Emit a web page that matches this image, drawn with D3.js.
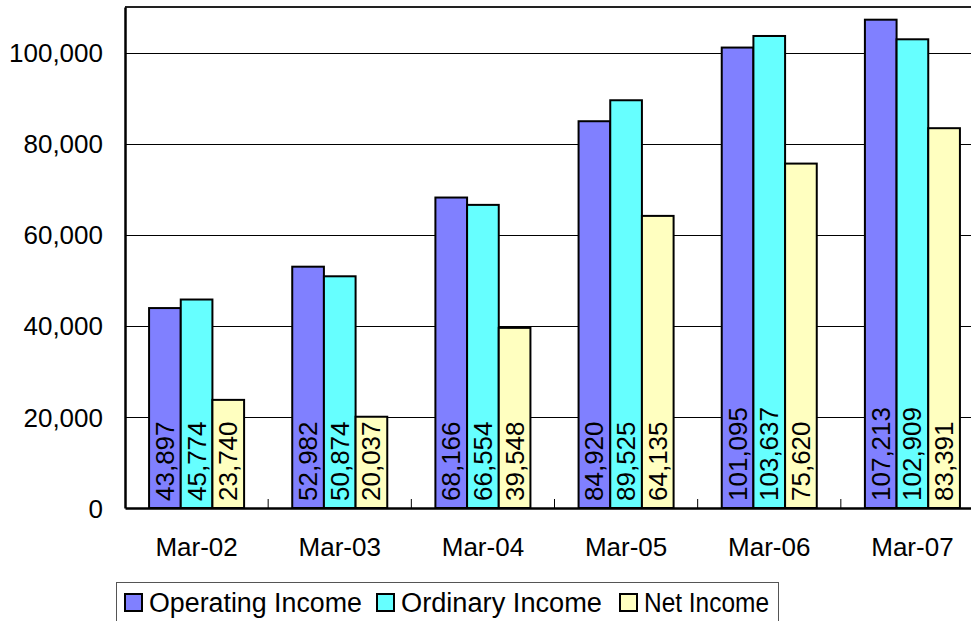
<!DOCTYPE html>
<html lang="en">
<head>
<meta charset="utf-8">
<script src="https://cdn.jsdelivr.net/npm/d3@7"></script>
<style>
  body { margin: 0; background: #fff; }
  text { font-family: "Liberation Sans", Arial, sans-serif; fill: #000; }
</style>
</head>
<body>
<script>
// chart data
var categories = ["Mar-02", "Mar-03", "Mar-04", "Mar-05", "Mar-06", "Mar-07"];
var seriesNames = ["Operating Income", "Ordinary Income", "Net Income"];
var operatingIncome = [43897, 52982, 68166, 84920, 101095, 107213];
var ordinaryIncome = [45774, 50874, 66554, 89525, 103637, 102909];
var netIncome = [23740, 20037, 39548, 64135, 75620, 83391];
var yTicks = [0, 20000, 40000, 60000, 80000, 100000];
var colors = ["#8080ff", "#66ffff", "#ffffc0"];

var w = 971, h = 621;
// plot area edges (right edge runs past the window)
var plotLeft = 125, plotRight = 984, plotTop = 7, plotBottom = 508;

var svg = d3.select("body").append("svg")
  .attr("width", w).attr("height", h);

var seriesValues = [operatingIncome, ordinaryIncome, netIncome];
var rows = [];
categories.forEach(function(c, i) {
  seriesNames.forEach(function(s, j) {
    rows.push({cat: c, series: s, idx: j, value: seriesValues[j][i]});
  });
});

var xScale = d3.scaleBand().domain(categories).range([plotLeft, plotRight]);
var xInner = d3.scaleBand().domain(seriesNames)
  .range([0, xScale.bandwidth()]).paddingOuter(0.76);
var yScale = d3.scaleLinear().domain([0, 110000]).range([plotBottom, plotTop]);

// gridlines
svg.append("g").selectAll("line")
  .data(yTicks.slice(1))
  .enter().append("line")
  .attr("x1", plotLeft).attr("x2", w)
  .attr("y1", function(d) { return Math.round(yScale(d)) + 0.5; })
  .attr("y2", function(d) { return Math.round(yScale(d)) + 0.5; })
  .attr("stroke", "#000").attr("stroke-width", 1);

// top border
svg.append("line")
  .attr("x1", plotLeft).attr("x2", w)
  .attr("y1", plotTop).attr("y2", plotTop)
  .attr("stroke", "#222").attr("stroke-width", 2);

// bars
svg.append("g").selectAll("rect")
  .data(rows)
  .enter().append("rect")
  .attr("x", function(d) { return xScale(d.cat) + xInner(d.series); })
  .attr("y", function(d) { return yScale(d.value); })
  .attr("width", xInner.bandwidth())
  .attr("height", function(d) { return plotBottom - yScale(d.value); })
  .attr("fill", function(d) { return colors[d.idx]; })
  .attr("stroke", "#000").attr("stroke-width", 2);

// value labels
svg.append("g").selectAll("text")
  .data(rows)
  .enter().append("text")
  .attr("transform", function(d) {
    var cx = xScale(d.cat) + xInner(d.series) + xInner.bandwidth() / 2;
    return "translate(" + (cx + 9) + "," + (plotBottom - 7) + ") rotate(-90)";
  })
  .attr("font-size", 26)
  .text(function(d) { return d3.format(",")(d.value); });

// y axis
var yAxis = d3.axisLeft(yScale).tickValues(yTicks).tickSize(0).tickPadding(22)
  .tickFormat(d3.format(","));
var gy = svg.append("g").attr("transform", "translate(" + plotLeft + ",0)").call(yAxis);
gy.select(".domain").attr("stroke", "#000").attr("stroke-width", 2.5);
gy.selectAll("text").attr("font-size", 26).attr("dy", "0.35em");

// x axis
var xAxis = d3.axisBottom(xScale).tickSize(0).tickPadding(30);
var gx = svg.append("g").attr("transform", "translate(0," + plotBottom + ")").call(xAxis);
gx.select(".domain").attr("stroke", "#000").attr("stroke-width", 2.5);
gx.selectAll("text").attr("font-size", 26);

// category separator ticks
svg.append("g").selectAll("line")
  .data(categories.slice(1))
  .enter().append("line")
  .attr("x1", function(d) { return xScale(d); })
  .attr("x2", function(d) { return xScale(d); })
  .attr("y1", plotBottom).attr("y2", plotBottom - 9)
  .attr("stroke", "#000").attr("stroke-width", 1);

// legend
var legend = svg.append("g").attr("transform", "translate(116,582)");
legend.append("rect")
  .attr("x", 0.5).attr("y", 0.5).attr("width", 662).attr("height", 45)
  .attr("fill", "#fff").attr("stroke", "#555").attr("stroke-width", 1);
var legendX = [9, 261, 504];
var legendW = [213, 201, 125];
seriesNames.forEach(function(s, j) {
  var g = legend.append("g").attr("transform", "translate(" + legendX[j] + ",0)");
  g.append("rect").attr("x", 0).attr("y", 12).attr("width", 17).attr("height", 17)
    .attr("fill", colors[j]).attr("stroke", "#000").attr("stroke-width", 2);
  g.append("text").attr("x", 24).attr("y", 30).attr("font-size", 27)
    .attr("textLength", legendW[j]).attr("lengthAdjust", "spacingAndGlyphs")
    .text(s);
});
</script>
</body>
</html>
